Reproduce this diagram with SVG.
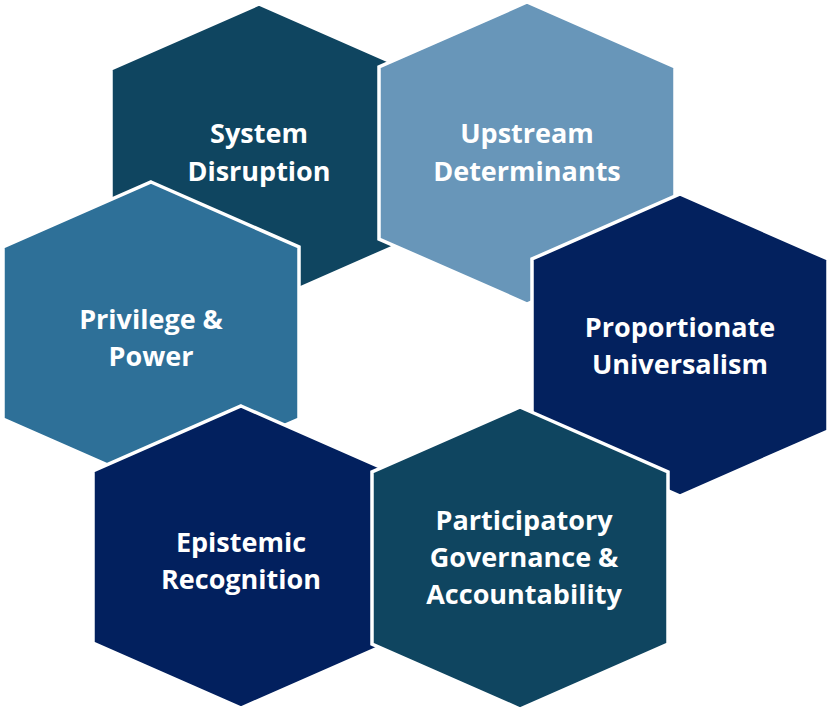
<svg xmlns="http://www.w3.org/2000/svg" width="828" height="712" viewBox="0 0 828 712">
<style>
.h{stroke:#fff;stroke-width:3.5;stroke-linejoin:miter}
.t{font-family:"Open Sans","Liberation Sans",sans-serif;font-weight:bold;font-size:27px;fill:#fff;text-anchor:middle}
</style>
<defs><polygon id="hex" points="0,-151 148,-86 148,86 0,151 -148,86 -148,-86"/></defs>
<rect width="828" height="712" fill="#fff"/>
<g id="system-disruption"><use href="#hex" x="259" y="155" class="h" fill="#0f4560"/><text class="t" x="259" y="143">System</text><text class="t" x="259" y="181">Disruption</text></g>
<g id="upstream-determinants"><use href="#hex" x="527" y="153" class="h" fill="#6896b9"/><text class="t" x="527" y="143">Upstream</text><text class="t" x="527" y="181">Determinants</text></g>
<g id="privilege-power"><use href="#hex" x="151" y="333" class="h" fill="#2e7098"/><text class="t" x="151" y="329">Privilege &amp;</text><text class="t" x="151" y="366">Power</text></g>
<g id="proportionate-universalism"><use href="#hex" x="680" y="345" class="h" fill="#03215e"/><text class="t" x="680" y="337">Proportionate</text><text class="t" x="680" y="374">Universalism</text></g>
<g id="epistemic-recognition"><use href="#hex" x="241" y="557" class="h" fill="#02205e"/><text class="t" x="241" y="552">Epistemic</text><text class="t" x="241" y="589">Recognition</text></g>
<g id="participatory-governance"><use href="#hex" x="520" y="558" class="h" fill="#0f4560"/><text class="t" x="524" y="530">Participatory</text><text class="t" x="524" y="567">Governance &amp;</text><text class="t" x="524" y="604">Accountability</text></g>
<g id="connectors"/>
</svg>
